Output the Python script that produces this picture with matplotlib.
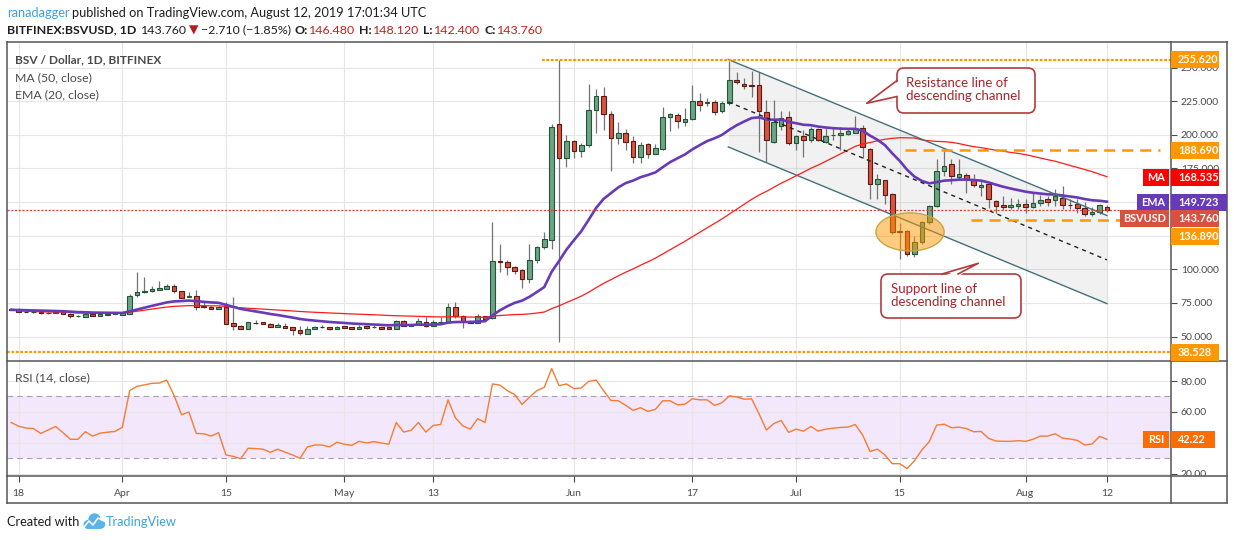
import numpy as np
import pandas as pd
import matplotlib
matplotlib.use('Agg')
import matplotlib.pyplot as plt
from matplotlib.patches import Rectangle, FancyBboxPatch, Ellipse, Polygon, Circle
from matplotlib.lines import Line2D
from matplotlib.transforms import Affine2D, Bbox

plt.rcParams['font.family'] = ['Lato', 'DejaVu Sans']
plt.rcParams['lines.scale_dashes'] = False

# daily candles BITFINEX:BSVUSD, 2019-03-17 .. 2019-08-12
start_date = '2019-03-17'
opens = [70.6, 69.9, 68.4, 68.2, 68.4, 67.2, 67.7, 68.4, 66.9, 65.0,
         64.7, 66.9, 65.5, 66.3, 66.9, 66.2, 66.9, 80.6, 82.9, 83.6,
         84.8, 85.3, 87.8, 83.8, 79.4, 80.4, 73.0, 72.1, 70.6, 72.1,
         59.8, 57.9, 55.8, 60.2, 60.5, 59.5, 57.3, 58.1, 56.9, 54.6,
         52.2, 55.6, 56.9, 56.8, 55.8, 57.6, 56.8, 55.8, 57.6, 56.8,
         56.8, 57.0, 55.6, 61.8, 57.8, 58.8, 61.0, 58.0, 60.5, 60.5,
         72.1, 65.2, 61.8, 60.3, 65.0, 63.6, 106.0, 105.2, 101.5, 99.5,
         92.6, 106.7, 116.8, 121.5, 207.7, 182.4, 195.1, 187.6, 192.1, 218.1,
         229.2, 215.1, 198.0, 201.7, 195.1, 183.7, 192.8, 186.1, 189.1, 213.6,
         215.1, 209.2, 212.1, 224.8, 224.0, 224.5, 217.8, 223.3, 241.1, 238.1,
         236.9, 236.9, 216.8, 194.8, 206.4, 213.4, 194.1, 199.0, 196.5, 204.0,
         194.8, 199.8, 199.8, 200.3, 201.5, 205.2, 189.6, 163.6, 166.1, 155.7,
         128.5, 128.5, 111.1, 120.3, 135.2, 147.0, 173.0, 178.0, 168.8, 169.8,
         167.3, 161.2, 163.1, 150.8, 147.5, 146.5, 147.0, 148.3, 146.5, 149.0,
         152.0, 151.2, 153.2, 147.8, 148.3, 145.8, 140.9, 142.9, 146.48]
highs = [71.0, 71.3, 68.8, 68.6, 69.3, 68.0, 68.9, 68.6, 67.2, 66.0,
         67.2, 67.2, 67.2, 68.5, 67.5, 67.5, 82.0, 97.8, 94.1, 87.8,
         91.4, 89.2, 89.2, 84.0, 83.1, 84.8, 75.7, 72.5, 72.5, 75.7,
         79.4, 58.3, 61.0, 62.0, 61.0, 59.8, 60.3, 59.8, 57.2, 57.8,
         57.5, 58.1, 58.3, 57.2, 57.6, 58.0, 57.0, 58.3, 57.8, 58.3,
         57.0, 57.3, 62.3, 62.3, 59.0, 63.5, 64.5, 62.0, 64.7, 75.0,
         76.0, 66.0, 62.0, 66.6, 65.5, 135.2, 118.9, 107.0, 102.5, 100.0,
         118.6, 117.5, 127.7, 207.9, 255.62, 199.8, 196.5, 194.1, 237.6, 234.4,
         235.2, 217.6, 209.4, 204.0, 199.0, 194.6, 193.6, 193.1, 220.8, 216.3,
         216.0, 219.8, 236.9, 231.4, 227.7, 226.0, 225.0, 255.0, 246.8, 242.6,
         247.5, 246.8, 225.7, 225.7, 217.8, 217.8, 200.0, 203.5, 205.5, 205.0,
         205.5, 205.5, 205.5, 204.0, 213.9, 207.0, 190.0, 170.6, 166.5, 157.0,
         134.7, 129.0, 124.8, 136.0, 147.5, 182.2, 189.1, 181.7, 181.7, 171.8,
         170.6, 165.6, 163.5, 151.5, 154.5, 153.2, 152.5, 152.5, 157.4, 155.0,
         154.5, 159.4, 161.9, 152.5, 152.0, 150.0, 146.5, 148.3, 148.12]
lows = [69.5, 68.2, 67.9, 67.8, 66.5, 67.0, 67.5, 66.7, 64.0, 64.3,
        64.5, 65.3, 65.3, 66.0, 66.7, 66.0, 66.5, 79.4, 82.5, 83.3,
        84.5, 85.0, 82.4, 78.5, 79.2, 69.6, 71.5, 70.3, 70.3, 59.2,
        54.9, 55.5, 55.5, 59.5, 59.0, 57.0, 57.0, 56.3, 51.4, 51.4,
        52.0, 55.3, 56.3, 54.9, 55.5, 56.3, 55.3, 55.5, 56.0, 56.3,
        55.3, 55.3, 55.3, 57.5, 57.5, 58.5, 57.2, 57.8, 60.0, 60.0,
        63.8, 56.6, 60.0, 60.0, 63.0, 62.9, 98.3, 95.8, 96.5, 85.9,
        89.6, 104.5, 114.9, 114.9, 45.6, 175.8, 182.4, 183.7, 191.1, 201.0,
        203.5, 173.3, 193.1, 188.9, 178.7, 179.2, 182.4, 185.4, 188.6, 203.0,
        204.7, 206.4, 210.9, 217.8, 221.5, 215.0, 216.0, 222.0, 238.0, 233.7,
        228.2, 187.4, 180.0, 193.6, 203.5, 192.3, 188.6, 183.7, 195.0, 195.5,
        194.0, 196.5, 188.6, 199.5, 201.0, 182.9, 152.5, 152.5, 148.3, 126.0,
        107.4, 110.0, 109.4, 119.0, 134.0, 146.0, 169.3, 163.1, 167.5, 156.9,
        161.0, 154.5, 145.8, 142.1, 144.1, 144.6, 145.0, 142.1, 145.8, 147.0,
        147.0, 147.0, 144.6, 144.6, 142.1, 139.6, 140.0, 140.9, 142.4]
closes = [69.9, 68.4, 68.2, 68.3, 67.2, 67.6, 68.4, 66.9, 65.5, 65.3,
          66.9, 65.5, 66.9, 67.0, 67.1, 67.2, 80.2, 83.1, 84.1, 85.5,
          86.0, 87.8, 83.6, 78.7, 80.4, 72.1, 71.8, 70.6, 72.1, 59.6,
          57.9, 55.9, 60.5, 60.0, 59.3, 57.3, 58.3, 56.6, 55.1, 52.9,
          55.8, 57.1, 56.8, 55.6, 57.3, 56.6, 55.6, 57.3, 56.3, 56.9,
          55.6, 55.6, 61.8, 57.8, 58.6, 61.8, 58.0, 60.5, 60.6, 72.1,
          65.2, 61.3, 60.3, 65.0, 63.4, 106.0, 105.8, 101.5, 99.0, 92.6,
          106.7, 116.8, 122.3, 205.9, 182.4, 195.1, 187.6, 192.1, 218.1, 228.5,
          215.8, 198.0, 201.7, 194.3, 183.7, 192.1, 186.1, 190.1, 212.9, 215.3,
          210.2, 212.1, 224.8, 222.5, 224.0, 217.1, 223.8, 240.6, 238.9, 236.1,
          236.6, 217.8, 196.5, 209.4, 212.6, 193.6, 199.0, 196.5, 204.0, 196.5,
          199.0, 200.0, 201.5, 202.7, 204.5, 191.1, 163.6, 166.8, 155.2, 127.7,
          128.0, 111.1, 120.3, 135.2, 147.0, 173.0, 176.7, 169.3, 170.5, 167.3,
          162.4, 162.4, 152.0, 147.0, 146.5, 147.5, 148.3, 146.5, 149.0, 151.2,
          150.0, 154.5, 147.8, 147.5, 145.8, 141.3, 142.9, 147.5, 143.76]
rsi_vals = [53.1, 50.7, 49.5, 49.2, 46.0, 48.3, 50.5, 46.5, 42.2, 42.2,
            47.1, 44.3, 46.2, 46.8, 47.3, 49.9, 73.8, 76.6, 77.5, 78.5,
            78.7, 80.6, 70.6, 58.2, 59.9, 46.0, 45.8, 44.3, 46.5, 32.1,
            31.1, 29.6, 36.4, 36.2, 35.8, 33.8, 35.8, 33.8, 32.1, 29.8,
            37.3, 38.5, 38.5, 37.3, 40.3, 39.0, 38.3, 40.9, 39.8, 40.7,
            39.8, 39.0, 53.1, 46.9, 48.0, 53.1, 46.9, 51.2, 51.8, 67.8,
            56.1, 50.9, 48.8, 55.6, 53.1, 78.1, 77.4, 73.8, 71.2, 64.8,
            69.5, 73.8, 75.9, 88.1, 77.0, 78.1, 75.1, 75.5, 79.8, 80.6,
            73.8, 67.4, 67.2, 64.2, 61.0, 62.7, 60.3, 61.6, 67.2, 67.2,
            64.6, 65.0, 68.5, 67.8, 67.8, 64.2, 65.9, 70.4, 69.7, 68.2,
            68.5, 58.8, 48.2, 52.4, 54.4, 46.7, 48.8, 47.5, 50.5, 47.5,
            48.8, 49.4, 49.9, 50.1, 51.8, 45.0, 34.3, 35.8, 32.1, 26.4,
            26.4, 23.2, 28.3, 35.3, 40.7, 51.4, 52.0, 49.7, 50.1, 49.2,
            47.1, 47.3, 42.8, 41.1, 40.9, 40.9, 41.3, 40.9, 42.2, 44.3,
            44.3, 45.8, 43.0, 42.4, 41.5, 38.5, 39.2, 44.1, 42.22]

tick_dates = ['2019-03-18', '2019-04-01', '2019-04-15', '2019-05-01', '2019-05-13', '2019-06-01',
              '2019-06-17', '2019-07-01', '2019-07-15', '2019-08-01', '2019-08-12']
tick_labels = ['18', 'Apr', '15', 'May', '13', 'Jun', '17', 'Jul', '15', 'Aug', '12']
price_ticks = [50, 75, 100, 125, 150, 175, 200, 225, 250]
rsi_ticks = [20, 40, 60, 80]
hidden_price_labels = [125, 150]   # covered by the value tags in the original
hidden_rsi_labels = [40]

# drawn levels / last values shown in the scale
ath_level = 255.620
low_level = 38.528
resist_level = 188.690
support_level = 136.890
last_close = 143.760
ma_last = 168.535
ema_last = 149.723
rsi_last = 42.22

# drawings in (day index, price)
ath_start = 71.7
resist_start, support_start, level_end = 120.7, 129.7, 155.2
chan_x = [96.85, 148.0]
chan_upper = [256.0, 140.0]
chan_mid = [224.5, 107.0]
chan_lower = [191.0, 74.5]
ell_center, ell_w, ell_h = (121.4, 127.8), 9.2, 28.3

UP, UP_EDGE = '#6ba583', '#225437'
DN, DN_EDGE = '#d75442', '#5b1a13'
WICK = '#737375'
GRID = '#e6e6e6'
TXT = '#4a4a4a'
FRAME = '#555555'
ORANGE = '#ff9800'
CALL = '#b03c3c'

W, H = 1234, 540
fig = plt.figure(figsize=(W / 100, H / 100), dpi=100)
PX = Affine2D().scale(1, -1).translate(0, H)   # image pixels, y down

ax = fig.add_axes([7 / W, 1 - 361 / H, 1164 / W, 319 / H])
axr = fig.add_axes([7 / W, 1 - 476 / H, 1164 / W, 115 / H])

n = len(closes)
days = np.arange(n)
dates = pd.date_range(start_date, periods=n, freq='D')
tick_pos = [dates.get_loc(pd.Timestamp(t)) for t in tick_dates]

for a in (ax, axr):
    a.set_xlim(-0.57, 156.65)
    for s in a.spines.values():
        s.set_visible(False)
    a.set_xticks(tick_pos)
    for p in tick_pos:
        a.axvline(p, color=GRID, lw=0.8, zorder=0.2)
ax.set_ylim(31.84, 269.0)
axr.set_ylim(18.4, 93.0)

for v in price_ticks:
    ax.axhline(v, color=GRID, lw=0.8, zorder=0.2)

# channel fill first so candles sit on it
ax.fill_between(chan_x, chan_lower, chan_upper, color='#787b86', alpha=0.1, lw=0, zorder=1)

# candles
o, h, l, c = (np.array(v, dtype=float) for v in (opens, highs, lows, closes))
up = c >= o
ax.vlines(days, l, h, color=WICK, lw=0.9, zorder=2)
body = np.maximum(np.abs(c - o), 0.35)
bottom = np.minimum(o, c)
ax.bar(days[up], body[up], bottom=bottom[up], width=0.62, color=UP, edgecolor=UP_EDGE, linewidth=0.8, zorder=3)
ax.bar(days[~up], body[~up], bottom=bottom[~up], width=0.62, color=DN, edgecolor=DN_EDGE, linewidth=0.8, zorder=3)

# moving averages
cs = pd.Series(c)
ma50 = cs.rolling(50, min_periods=1).mean()
ema20 = cs.ewm(span=20, adjust=False).mean()
ax.plot(days, ma50, color='#ff1a1a', lw=0.9, zorder=4)
ax.plot(days, ema20, color='#673ab7', lw=1.9, zorder=4)

# channel lines
ax.plot(chan_x, chan_upper, color='#44707a', lw=1, zorder=4.5)
ax.plot(chan_x, chan_lower, color='#44707a', lw=1, zorder=4.5)
ax.plot(chan_x, chan_mid, color='#222222', lw=1, ls=(0, (3, 3)), zorder=4.5)

# horizontal levels
xmin, xmax = ax.get_xlim()
ax.hlines(ath_level, ath_start, xmax, color=ORANGE, lw=1.6, ls=(0, (2, 1.2)), zorder=4.6)
ax.hlines(low_level, xmin, xmax, color=ORANGE, lw=1.6, ls=(0, (2, 1.2)), zorder=4.6)
ax.hlines(resist_level, resist_start, level_end, color=ORANGE, lw=1.8, ls=(0, (8, 5)), zorder=4.6)
ax.hlines(support_level, support_start, level_end, color=ORANGE, lw=1.8, ls=(0, (8, 5)), zorder=4.6)
ax.axhline(last_close, color='#e53935', lw=0.9, ls=(0, (1.5, 1.2)), zorder=4.6)

ax.add_patch(Ellipse(ell_center, ell_w, ell_h, fc=(1, 0.596, 0, 0.5), ec='#c8a445', lw=1, zorder=5))

# RSI panel
axr.axhspan(30, 70, color='#f3e7fc', lw=0, zorder=0.1)
for v in rsi_ticks:
    axr.axhline(v, color=GRID, lw=0.8, zorder=0.2)
for v in (30, 70):
    axr.axhline(v, color='#a99fb3', lw=0.8, ls=(0, (4, 3)), zorder=0.5)
axr.plot(days, rsi_vals, color='#f57c32', lw=1, zorder=3)

# scales
ax.yaxis.tick_right()
ax.set_yticks(price_ticks)
ax.set_yticklabels(['' if v in hidden_price_labels else f'{v:.3f}' for v in price_ticks])
ax.tick_params(axis='y', direction='out', length=4, width=0.8, color=TXT, labelcolor=TXT, labelsize=7.5, pad=3)
ax.tick_params(axis='x', length=0, labelbottom=False)

axr.yaxis.tick_right()
axr.set_yticks(rsi_ticks)
axr.set_yticklabels(['' if v in hidden_rsi_labels else f'{v:.2f}' for v in rsi_ticks])
axr.tick_params(axis='y', direction='out', length=4, width=0.8, color=TXT, labelcolor=TXT, labelsize=7.5, pad=3)
axr.set_xticklabels(tick_labels)
axr.tick_params(axis='x', direction='out', length=4, width=0.8, color=TXT, labelcolor=TXT, labelsize=7.5, pad=5)
clip = Bbox([[1171, H - 476], [W, H - 361]])
for t in axr.get_yticklabels():
    t.set_clip_box(clip)
    t.set_clip_on(True)

# frame
for xs, ys in [([7, 1227], [42, 42]), ([7, 1227], [503, 503]), ([7, 7], [42, 503]),
               ([1227, 1227], [42, 503]), ([1171, 1171], [42, 503]),
               ([7, 1227], [361, 361]), ([7, 1227], [476, 476])]:
    fig.add_artist(Line2D(xs, ys, transform=PX, color=FRAME, lw=1.1, zorder=6))


def ypix(a, v):
    return H - a.transData.transform((0, v))[1]


def tag(yc, txt, color, x1=1219, label=None, lx0=None, hh=17):
    fig.add_artist(Rectangle((1171, yc - hh / 2), x1 - 1171, hh, transform=PX, fc=color, ec='none', zorder=7))
    fig.text(1178, yc, txt, transform=PX, ha='left', va='center', color='white',
             fontsize=7.8, fontweight='bold', zorder=8)
    if label:
        fig.add_artist(Rectangle((lx0, yc - hh / 2), 1169 - lx0, hh, transform=PX, fc=color, ec='none', zorder=7))
        fig.text((lx0 + 1169) / 2, yc, label, transform=PX, ha='center', va='center', color='white',
                 fontsize=7.8, fontweight='bold', zorder=8)


y_ema = ypix(ax, ema_last)
tag(ypix(ax, ath_level), f'{ath_level:.3f}', ORANGE)
tag(ypix(ax, resist_level), f'{resist_level:.3f}', ORANGE)
tag(ypix(ax, ma_last), f'{ma_last:.3f}', '#ff0000', label='MA', lx0=1143)
tag(y_ema, f'{ema_last:.3f}', '#673ab7', x1=1227, label='EMA', lx0=1137)
tag(y_ema + 16.5, f'{last_close:.3f}', '#d9503f', label='BSVUSD', lx0=1120)
tag(y_ema + 34, f'{support_level:.3f}', ORANGE)
tag(ypix(ax, low_level), f'{low_level:.3f}', ORANGE)
tag(ypix(axr, rsi_last), f'{rsi_last:.2f}', '#ff6d00', x1=1215, label='RSI', lx0=1143)


def callout(box, tail, inset, lines):
    x0, y0, x1, y1 = box
    fig.add_artist(FancyBboxPatch((x0, y0), x1 - x0, y1 - y0, boxstyle='round,pad=0,rounding_size=7',
                                  transform=PX, fc='white', ec=CALL, lw=1.2, zorder=6.5))
    dx, dy = inset
    poly = [(tail[0][0] + dx, tail[0][1] + dy), tail[1], (tail[2][0] + dx, tail[2][1] + dy)]
    fig.add_artist(Polygon(poly, closed=True, transform=PX, fc='white', ec='none', zorder=6.6))
    fig.add_artist(Line2D([p[0] for p in tail], [p[1] for p in tail], transform=PX, color=CALL, lw=1.2, zorder=6.7))
    for tx, ty, s in lines:
        fig.text(tx, ty, s, transform=PX, fontsize=9.5, color='#a8232a', ha='left', va='center', zorder=6.8)


callout((897, 68, 1035, 113), [(897, 80.5), (866.7, 103.3), (897, 96.5)], (2.5, 0),
        [(906, 83, 'Resistance line of'), (906, 96, 'descending channel')])
callout((881, 274, 1021, 318), [(942, 274), (978.3, 263.3), (958, 274)], (0, 2.5),
        [(891, 289, 'Support line of'), (891, 302, 'descending channel')])

# panel legends
fig.text(15, 60, 'BSV / Dollar, 1D, BITFINEX', transform=PX, fontsize=8.6, fontweight='bold', color=TXT, va='center')
fig.text(15, 78, 'MA (50, close)', transform=PX, fontsize=8.8, color=TXT, va='center')
fig.text(15, 95, 'EMA (20, close)', transform=PX, fontsize=8.8, color=TXT, va='center')
fig.text(15, 378, 'RSI (14, close)', transform=PX, fontsize=8.8, color=TXT, va='center')

# header rows
renderer = fig.canvas.get_renderer()


def row(x, y, parts, size):
    for s, color, weight, gap in parts:
        t = fig.text(x, y, s, transform=PX, fontsize=size, color=color, fontweight=weight, va='center', ha='left')
        x = t.get_window_extent(renderer).x1 + gap


DARK = '#1e1e1e'
VAL = '#c0201c'
row(7, 13, [('ranadagger', '#3ba0e6', 'normal', 3),
            ('published on TradingView.com, August 12, 2019 17:01:34 UTC', DARK, 'normal', 0)], 9.2)
row(7, 30, [('BITFINEX:BSVUSD, 1D', DARK, 'bold', 5),
            ('143.760', DARK, 'normal', 2),
            ('\u25bc', '#b71c1c', 'normal', 2),
            ('\u22122.710 (\u22121.85%)', DARK, 'normal', 4),
            ('O:', DARK, 'bold', 1), ('146.480', VAL, 'normal', 4),
            ('H:', DARK, 'bold', 1), ('148.120', VAL, 'normal', 4),
            ('L:', DARK, 'bold', 1), ('142.400', VAL, 'normal', 4),
            ('C:', DARK, 'bold', 1), ('143.760', VAL, 'normal', 0)], 8.9)

# footer
fig.text(7, 522, 'Created with', transform=PX, fontsize=9.2, color=DARK, va='center')
for cx, cy, r in [(88, 524.5, 4.5), (94.5, 519.5, 6.2), (101, 524.5, 4.2)]:
    fig.add_artist(Circle((cx, cy), r, transform=PX, fc='#5ab4e8', ec='none', zorder=5))
fig.add_artist(Rectangle((88, 522), 13, 7, transform=PX, fc='#5ab4e8', ec='none', zorder=5))
fig.add_artist(Line2D([84, 89, 93, 98, 104], [527, 521, 525, 518, 521], transform=PX, color='white', lw=1.1, zorder=6))
fig.text(106, 522, 'TradingView', transform=PX, fontsize=9.2, color='#3ba3e0', va='center')

fig.savefig('out.png', dpi=100, facecolor='white')
